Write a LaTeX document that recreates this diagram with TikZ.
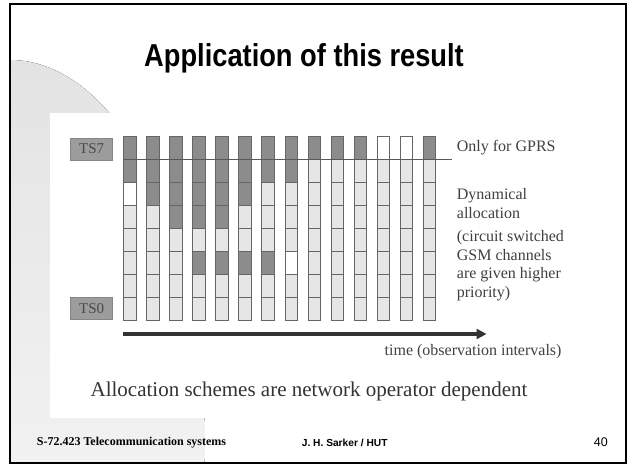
\documentclass[tikz,border=0pt]{standalone}
\usepackage{fontspec}
\setmainfont{Liberation Serif}
\newfontfamily\arialfont{Liberation Sans}
\newfontfamily\titlefont[FakeStretch=0.86]{Liberation Sans}
\usetikzlibrary{arrows.meta}

% slot fills: dark = allocated, light = free, white = idle
\definecolor{cD}{HTML}{8C8C8C}
\definecolor{cL}{HTML}{E6E6E6}
\definecolor{cW}{HTML}{FFFFFF}
\definecolor{cellline}{HTML}{666666}
\definecolor{labelfill}{HTML}{9C9C9C}
\definecolor{labeltext}{HTML}{4A4A4A}
\definecolor{decor}{HTML}{E3E3E3}

\tikzset{
  slotcell/.style={draw=cellline, line width=0.9pt, inner sep=0pt, anchor=north west,
    minimum width=12.7pt, minimum height=23pt},
  tslabel/.style={fill=labelfill, draw=labelfill!85!black, line width=0.5pt, inner sep=0pt,
    minimum width=42pt, minimum height=22pt, text=labeltext,
    font=\fontsize{15}{16}\selectfont},
  sidetext/.style={inner sep=0pt, text=black!75, font=\fontsize{16}{18.7}\selectfont, align=left},
  footer/.style={inner sep=0pt, anchor=base},
}

\begin{document}
\begin{tikzpicture}[x=1pt, y=-1pt]
\useasboundingbox (0,0) rectangle (630,466);
\fill[white] (0,0) rectangle (630,466);

% decorative rounded backdrop on the left
\begin{scope}
  \clip (10,4) rectangle (626,463);
  \fill[top color=decor, bottom color=white] (10,440) ellipse [x radius=195, y radius=380];
\end{scope}

% white panel of the figure
\fill[white] (50,113) rectangle (577,418);

% title
\node[inner sep=0pt, anchor=base, font=\titlefont\bfseries\fontsize{31.7}{36}\selectfont]
  (title) at (304,66.7) {Application of this result};

% time slot labels
\node[tslabel] (ts7) at (91.7,149) {TS7};
\node[tslabel] (ts0) at (91.7,308.3) {TS0};

% 14 observation intervals, 8 slots each (TS7 at top, TS0 at bottom)
\foreach \col [count=\i] in {
  {D,D,W,L,L,L,L,L},
  {D,D,D,L,L,L,L,L},
  {D,D,D,D,L,L,L,L},
  {D,D,D,D,L,D,L,L},
  {D,D,D,D,L,D,L,L},
  {D,D,D,L,L,D,L,L},
  {D,D,L,L,L,D,L,L},
  {D,D,L,L,L,W,L,L},
  {D,L,L,L,L,L,L,L},
  {D,L,L,L,L,L,L,L},
  {D,L,L,L,L,L,L,L},
  {W,L,L,L,L,L,L,L},
  {W,L,L,L,L,L,L,L},
  {D,L,L,L,L,L,L,L}} {
  \foreach \f [count=\j] in \col {
    \node[slotcell, fill=c\f] (c\i-\j) at ({123.3+23.03*(\i-1)}, {136+23*(\j-1)}) {};
  }
}

% boundary of the GPRS-only slot
\coordinate (gprsl) at (123,159);
\coordinate (gprsr) at (452,159);
\draw[black!65, line width=1pt] (gprsl) -- (gprsr);

% time axis
\coordinate (tstart) at (123,334);
\coordinate (tend) at (486.5,334);
\draw[black!80, line width=3.5pt, -{Triangle[length=10pt, width=10pt]}] (tstart) -- (tend);

% annotations
\node[sidetext, anchor=base west] (gprs) at (456.7,151) {Only for GPRS};
\node[sidetext, anchor=north west] (dyn) at (456.7,188) {Dynamical\\allocation};
\node[sidetext, anchor=north west] (csw) at (456.7,230) {(circuit switched\\GSM channels\\are given higher\\priority)};
\node[sidetext, anchor=base east] (time) at (561.7,355) {time (observation intervals)};
\node[inner sep=0pt, anchor=base, text=black!80, font=\fontsize{21}{24}\selectfont]
  (schemes) at (309,396) {Allocation schemes are network operator dependent};

% footer
\node[footer, anchor=base west, font=\bfseries\fontsize{12}{14}\selectfont] (course) at (36.7,445.7)
  {S-72.423 Telecommunication systems};
\node[footer, anchor=base west, font=\arialfont\bfseries\fontsize{10.2}{12}\selectfont] (author) at (301.7,446.7)
  {J. H. Sarker / HUT};
\node[footer, anchor=base east, font=\arialfont\fontsize{12.5}{14}\selectfont] (page) at (608,446.7) {40};

% slide frame
\draw[black, line width=2.5pt] (10,4) rectangle (626,463);
\end{tikzpicture}
\end{document}
